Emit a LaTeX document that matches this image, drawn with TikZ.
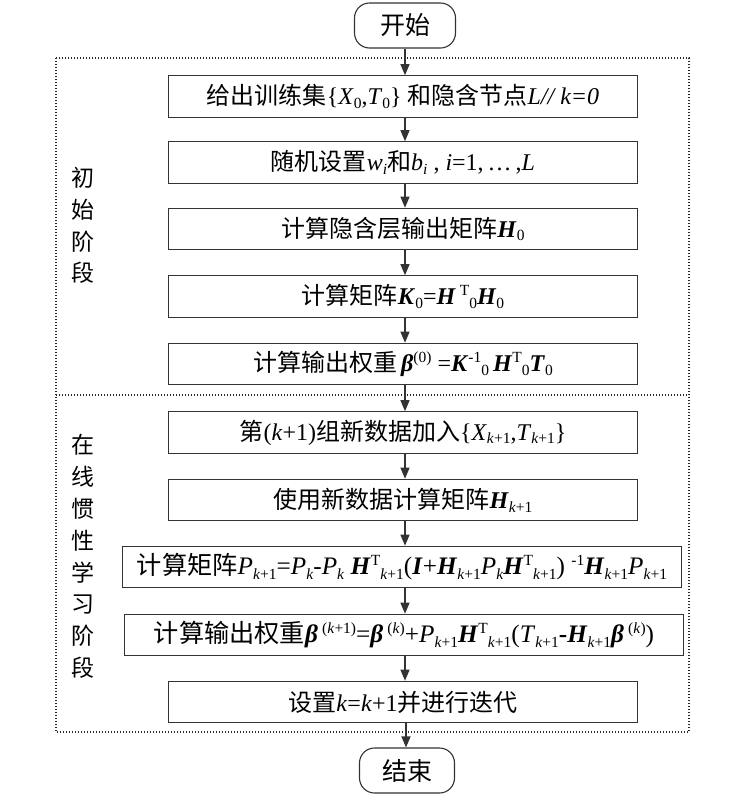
\documentclass[tikz,border=0pt]{standalone}
\usepackage{fontspec}
\setmainfont{Liberation Serif}
\newfontfamily\cjk{Noto Sans CJK SC}
\usetikzlibrary{arrows.meta}
\newcommand\zh[1]{{\cjk #1}}
\newcommand\dn[1]{\raisebox{-0.35ex}{\fontsize{15.5}{16}\selectfont #1}}
\newcommand\up[1]{\raisebox{0.8ex}{\fontsize{15.5}{16}\selectfont #1}}
\newcommand\bi[1]{\textbf{\textit{#1}}}
\newcommand\ii[1]{\textit{#1}}
\tikzset{
  stepbox/.style={draw=black!80, line width=1.1pt, minimum width=469pt, minimum height=41.5pt, inner sep=0pt, font=\fontsize{24}{26}\selectfont},
  widebox/.style={stepbox, minimum width=559pt, font=\fontsize{25.2}{27}\selectfont},
  term/.style={draw=black!80, line width=1.1pt, rounded corners=15pt, minimum height=45pt, inner sep=0pt, font=\fontsize{25}{27}\selectfont},
  stage/.style={align=center, inner sep=0pt, font=\fontsize{23}{31.8}\selectfont},
  frame/.style={draw=black!85, line width=1.1pt, dash pattern=on 1.1pt off 1.9pt},
  conn/.style={draw=black!80, line width=1.1pt, -{Triangle[length=11pt,width=9pt]}}
}
\begin{document}
\begin{tikzpicture}[x=1pt,y=-1pt]
\useasboundingbox (0,0) rectangle (750,796);
\fill[white] (0,0) rectangle (750,796);
\draw[frame] (56,58) rectangle (689,732);
\draw[frame] (56,395) -- (689,395);
\node[term, minimum width=101pt] (start) at (405,25.5) {\zh{开始}};
\node[stepbox] (b1) at (403,96.5) {\zh{给出训练集}\{\ii{X}\dn{0},\ii{T}\dn{0}\} \zh{和隐含节点}\ii{L// k=0}};
\node[stepbox] (b2) at (403,162.5) {\zh{随机设置}\ii{w}\dn{\ii{i}}\zh{和}\ii{b}\dn{\ii{i}}\ , \ii{i}=1,\,…\,,\ii{L}};
\node[stepbox] (b3) at (403,229) {\zh{计算隐含层输出矩阵}\bi{H}\dn{0}};
\node[stepbox] (b4) at (403,296.5) {\zh{计算矩阵}\bi{K}\dn{0}=\bi{H}\,\up{T}\dn{0}\bi{H}\dn{0}};
\node[stepbox] (b5) at (403,364) {\zh{计算输出权重}\,\bi{β}\up{(0)} =\bi{K}\up{-1}\dn{0}\,\bi{H}\up{T}\dn{0}\bi{T}\dn{0}};
\node[stepbox] (b6) at (403,432.5) {\zh{第}(\ii{k}+1)\zh{组新数据加入}\{\ii{X}\dn{\ii{k}+1},\ii{T}\dn{\ii{k}+1}\}};
\node[stepbox] (b7) at (403,500) {\zh{使用新数据计算矩阵}\bi{H}\dn{\ii{k}+1}};
\node[widebox] (b8) at (402,567) {\zh{计算矩阵}\ii{P}\dn{\ii{k}+1}=\ii{P}\dn{\ii{k}}-\ii{P}\dn{\ii{k}} \bi{H}\up{T}\dn{\ii{k}+1}(\bi{I}+\bi{H}\dn{\ii{k}+1}\ii{P}\dn{\ii{k}}\bi{H}\up{T}\dn{\ii{k}+1}) \up{-1}\bi{H}\dn{\ii{k}+1}\ii{P}\dn{\ii{k}+1}};
\node[widebox] (b9) at (404,635) {\zh{计算输出权重}\bi{β}\,\up{(\ii{k}+1)}=\bi{β}\,\up{(\ii{k})}+\ii{P}\dn{\ii{k}+1}\bi{H}\up{T}\dn{\ii{k}+1}(\ii{T}\dn{\ii{k}+1}\textbf{-}\bi{H}\dn{\ii{k}+1}\bi{β}\,\up{(\ii{k})})};
\node[stepbox] (b10) at (403,702) {\zh{设置}\ii{k}=\ii{k}+1\zh{并进行迭代}};
\node[term, minimum width=95pt] (end) at (407,770.5) {\zh{结束}};
\node[stage] (s1) at (83,225.5) {\zh{初}\\\zh{始}\\\zh{阶}\\\zh{段}};
\node[stage] (s2) at (83,556.5) {\zh{在}\\\zh{线}\\\zh{惯}\\\zh{性}\\\zh{学}\\\zh{习}\\\zh{阶}\\\zh{段}};
\draw[conn] (start.south -| 405,0) -- (b1.north -| 405,0);
\foreach \a/\b in {b1/b2,b2/b3,b3/b4,b4/b5,b5/b6,b6/b7,b7/b8,b8/b9,b9/b10}
  \draw[conn] (\a.south -| 405,0) -- (\b.north -| 405,0);
\draw[conn] (b10.south -| 406,0) -- (end.north -| 406,0);
\end{tikzpicture}
\end{document}
